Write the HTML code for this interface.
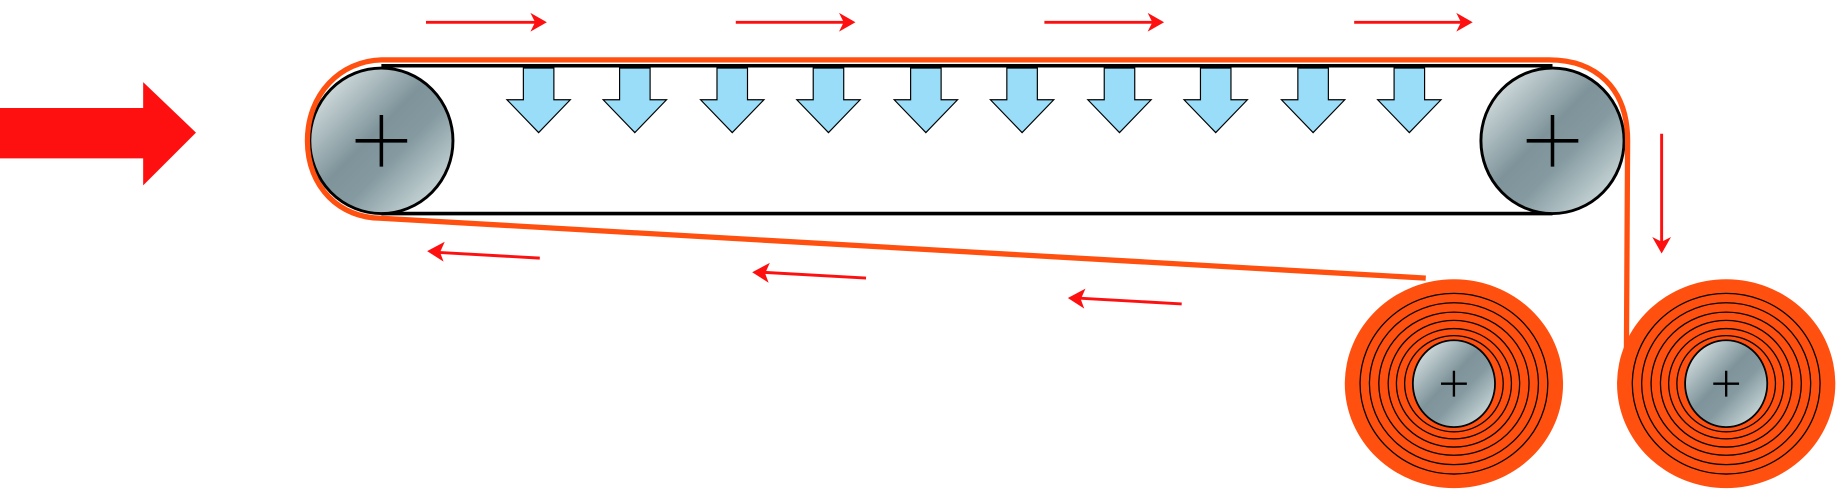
<!DOCTYPE html>
<html><head><meta charset="utf-8"><style>html,body{margin:0;padding:0;background:#fff}svg{display:block}</style></head>
<body>
<svg width="1840" height="494" viewBox="0 0 1568 421" preserveAspectRatio="none" xmlns="http://www.w3.org/2000/svg">
<defs>
<linearGradient id="m" x1="0" y1="0" x2="1" y2="1">
<stop offset="0" stop-color="#f0f6f6"/><stop offset="0.45" stop-color="#7e949a"/><stop offset="0.6" stop-color="#849aa0"/><stop offset="1" stop-color="#e6f0f0"/>
</linearGradient>
<g id="ba"><polygon points="-13,0 13,0 13,27 27,27 0,55 -27,27 -13,27" fill="#99ddf8" stroke="#000" stroke-width="1"/></g>
<g id="reel">
<ellipse cx="0" cy="0" rx="93" ry="89" fill="#ff5010"/>
<g fill="none" stroke="#000" stroke-width="1.1">
<ellipse rx="80" ry="77"/><ellipse rx="72" ry="69"/><ellipse rx="64" ry="61"/><ellipse rx="56" ry="54"/><ellipse rx="49" ry="47"/><ellipse rx="42" ry="41"/>
</g>
<ellipse rx="35" ry="37" fill="url(#m)" stroke="#000" stroke-width="1.5"/>
<path d="M-11 0H11M0 -11V11" stroke="#000" stroke-width="2"/>
</g>
</defs>
<polygon points="0,92 122,92 122,70 167,113 122,158 122,135 0,135" fill="#ff1010"/>
<line x1="325" y1="56" x2="1323" y2="56" stroke="#000" stroke-width="3"/>
<line x1="325" y1="182" x2="1323" y2="182" stroke="#000" stroke-width="3"/>
<ellipse cx="325" cy="120" rx="61" ry="62" fill="url(#m)" stroke="#000" stroke-width="2.5"/>
<path d="M303 120H347M325 98V142" stroke="#000" stroke-width="3"/>
<ellipse cx="1323" cy="120" rx="61" ry="62" fill="url(#m)" stroke="#000" stroke-width="2.5"/>
<path d="M1301 120H1345M1323 98V142" stroke="#000" stroke-width="3"/>
<path d="M1215 237 L325 186 C290 186 262 160 262 120 C262 80 290 52 325 51 L1320 51 C1360 51 1387 75 1387 120 L1386 300" fill="none" stroke="#ff5010" stroke-width="4.5"/>
<use href="#reel" x="1239" y="327"/>
<use href="#reel" x="1471" y="327"/>
<use href="#ba" x="459" y="58"/><use href="#ba" x="541" y="58"/><use href="#ba" x="624" y="58"/><use href="#ba" x="706" y="58"/><use href="#ba" x="789" y="58"/>
<use href="#ba" x="871" y="58"/><use href="#ba" x="954" y="58"/><use href="#ba" x="1036" y="58"/><use href="#ba" x="1119" y="58"/><use href="#ba" x="1201" y="58"/>
<g stroke="#ff1010" stroke-width="2.5" fill="#ff1010">
<line x1="363" y1="19" x2="458" y2="19"/><polygon points="466,19 452,11 456,19 452,27" stroke="none"/>
<line x1="627" y1="19" x2="721" y2="19"/><polygon points="729,19 715,11 719,19 715,27" stroke="none"/>
<line x1="890" y1="19" x2="984" y2="19"/><polygon points="992,19 978,11 982,19 978,27" stroke="none"/>
<line x1="1154" y1="19" x2="1247" y2="19"/><polygon points="1255,19 1241,11 1245,19 1241,27" stroke="none"/>
<line x1="1416" y1="114" x2="1416" y2="208"/><polygon points="1416,216 1408,202 1416,206 1424,202" stroke="none"/>
<line x1="460" y1="220" x2="372" y2="215"/><polygon points="364,214 379,206 375,215 378,223" stroke="none"/>
<line x1="738" y1="237" x2="649" y2="232"/><polygon points="641,232 656,224 652,233 655,241" stroke="none"/>
<line x1="1007" y1="259" x2="918" y2="254"/><polygon points="910,254 925,246 921,255 924,263" stroke="none"/>
</g>
</svg>
</body></html>
